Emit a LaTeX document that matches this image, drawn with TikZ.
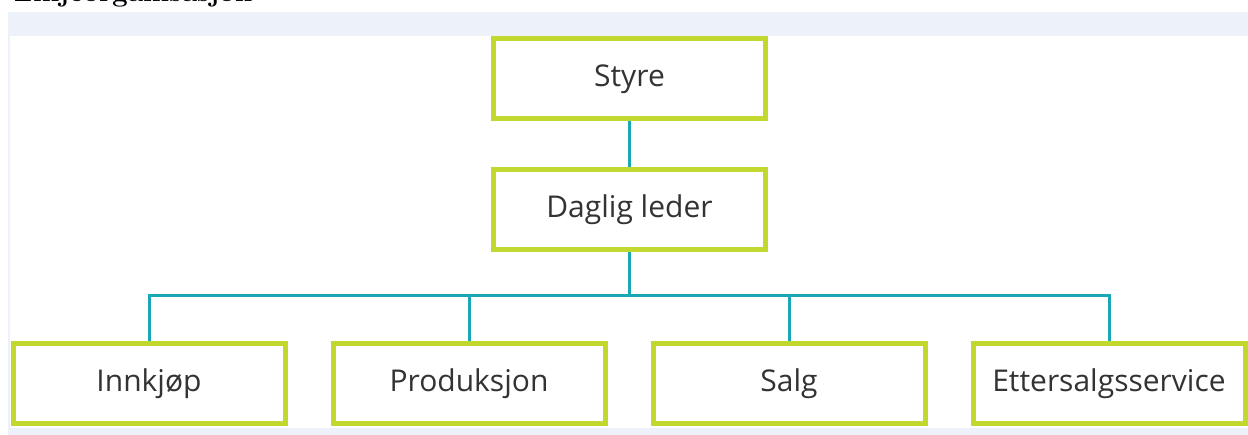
\documentclass[tikz,border=0pt]{standalone}
\usepackage{fontspec}
\setsansfont{Open Sans}
\definecolor{lime}{HTML}{C2D82E}
\definecolor{teal2}{HTML}{1AA7B8}
\definecolor{band}{HTML}{EDF1FA}
\definecolor{txt}{HTML}{333333}
\begin{document}
\begin{tikzpicture}[x=1pt,y=-1pt,
  box/.style={draw=lime,line width=5pt,fill=white,minimum width=272pt,minimum height=80pt,inner sep=0pt,
    font=\sffamily\fontsize{30}{36}\selectfont,text=txt},
  link/.style={draw=teal2,line width=3pt}]
\useasboundingbox (0,0) rectangle (1248,435);
\fill[band] (8,12) rectangle (1248,435);
\fill[white] (10,36) rectangle (1248,428);
\begin{scope}
\clip (0,0) rectangle (1248,435);
\node[anchor=base west,inner sep=0pt,font=\rmfamily\bfseries\fontsize{28}{32}\selectfont] (title) at (14,2) {Linjeorganisasjon};
\end{scope}
\node[box] (styre) at (629.5,79) {Styre};
\node[box] (leder) at (629.5,210) {Daglig leder};
\node[box] (inn) at (149,384) {Innkjøp};
\node[box] (prod) at (469,384) {Produksjon};
\node[box] (salg) at (789,384) {Salg};
\node[box] (etter) at (1109,384) {Ettersalgsservice};
\coordinate (bus) at (629.5,296);
\draw[link] (styre.south) -- (leder.north);
\draw[link] (leder.south) -- (bus);
\draw[link] (inn.north) |- (bus) -| (etter.north);
\draw[link] (prod.north) -- (prod.north |- bus);
\draw[link] (salg.north) -- (salg.north |- bus);
\end{tikzpicture}
\end{document}
